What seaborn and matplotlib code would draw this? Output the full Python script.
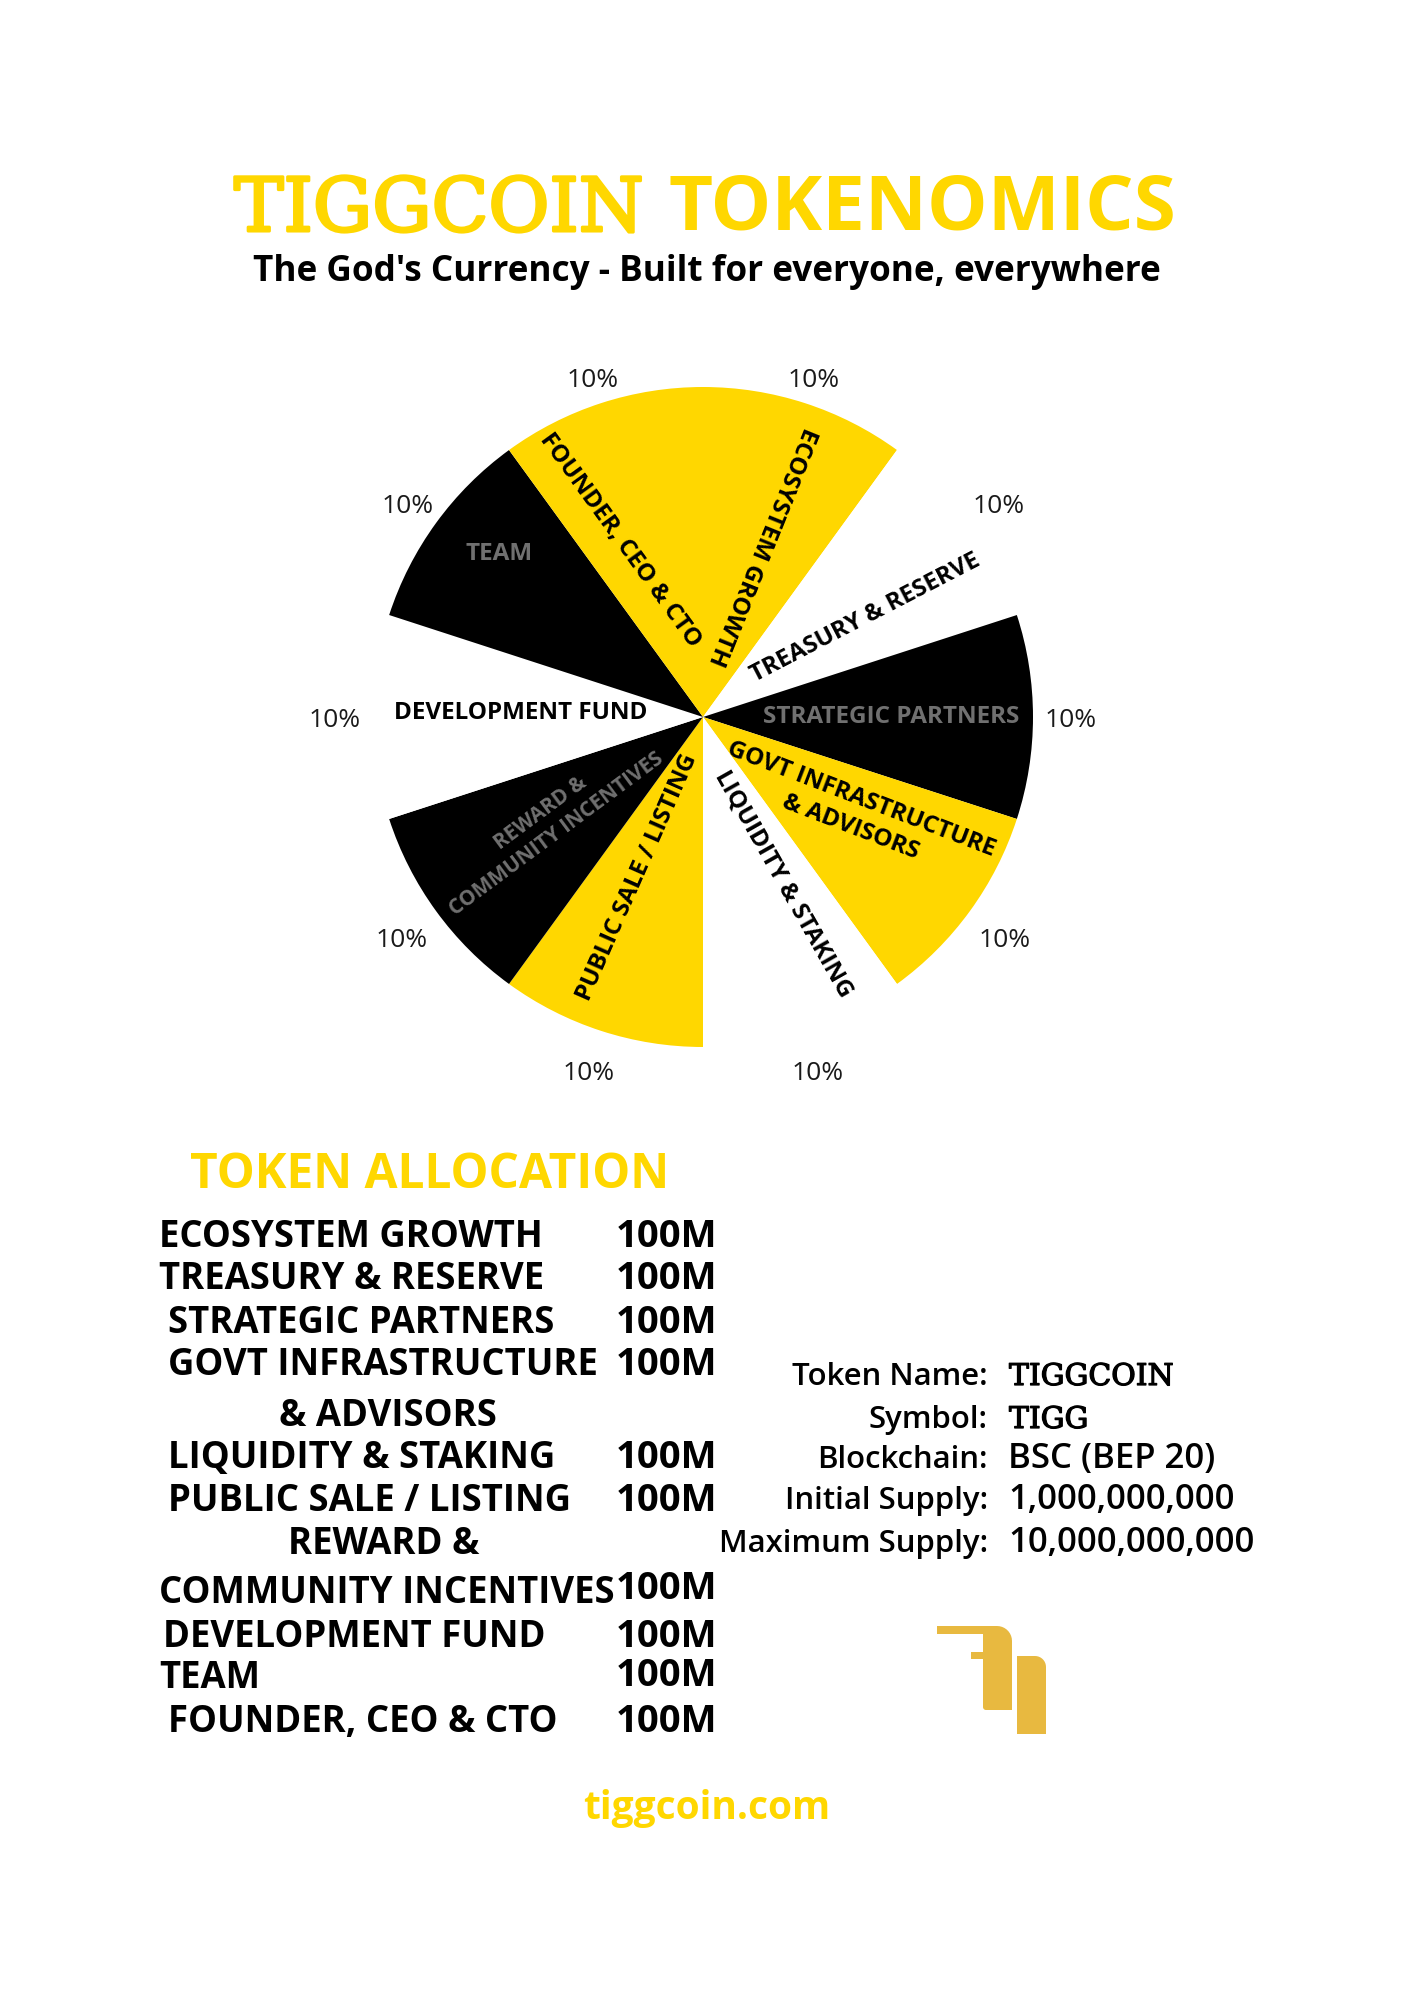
import numpy as np
import matplotlib
matplotlib.use("Agg")
import matplotlib.pyplot as plt
import matplotlib.patheffects as pe
import seaborn as sns
from matplotlib.patches import Polygon

# ================= DATA =================
categories = [
    "ECOSYSTEM GROWTH", "TREASURY & RESERVE", "STRATEGIC PARTNERS",
    "GOVT INFRASTRUCTURE & ADVISORS", "LIQUIDITY & STAKING",
    "PUBLIC SALE / LISTING", "REWARD & COMMUNITY INCENTIVES",
    "DEVELOPMENT FUND", "TEAM", "FOUNDER, CEO & CTO",
]
amounts_m = [100, 100, 100, 100, 100, 100, 100, 100, 100, 100]
slice_colors = ["#FFD700", "#FFFFFF", "#000000", "#FFD700", "#FFFFFF",
                "#FFD700", "#000000", "#FFFFFF", "#000000", "#FFD700"]

info_labels = ["Token Name:", "Symbol:", "Blockchain:", "Initial Supply:", "Maximum Supply:"]
info_values = ["TIGGCOIN", "TIGG", "BSC (BEP 20)", "1,000,000,000", "10,000,000,000"]

YELLOW = "#FFD700"
GRAY = "#707070"
GOLD = "#E8B940"

# ================= STYLE =================
sns.set_theme(style="white")
plt.rcParams["font.family"] = ["Open Sans", "DejaVu Sans"]

W, H = 1414, 2000
fig = plt.figure(figsize=(W / 100, H / 100), dpi=100)
fig.patch.set_facecolor("white")

bg = fig.add_axes([0, 0, 1, 1])
bg.set_xlim(0, W)
bg.set_ylim(H, 0)
bg.axis("off")

def thick(col, w):
    return [pe.withStroke(linewidth=w, foreground=col)]

# ================= TITLE =================
bg.text(234, 231, "TIGGCOIN", family="DejaVu Serif", fontsize=53.5, color=YELLOW,
        ha="left", va="baseline", path_effects=thick(YELLOW, 2.2))
bg.text(669, 229, "TOKENOMICS", fontsize=55, weight="bold", color=YELLOW,
        ha="left", va="baseline")
bg.text(707, 281, "The God's Currency - Built for everyone, everywhere",
        fontsize=25.3, weight="bold", color="black", ha="center", va="baseline")

# ================= PIE =================
cx, cy, side = 703, 717, 858
pie_ax = fig.add_axes([(cx - side / 2) / W, (H - cy - side / 2) / H, side / W, side / H])
wedges, _, pct_texts = pie_ax.pie(
    amounts_m, colors=slice_colors, startangle=90, counterclock=False,
    autopct=lambda p: f"{p:.0f}%", pctdistance=1.1,
    wedgeprops=dict(linewidth=0),
    textprops=dict(fontsize=19, color="#1a1a1a"),
)
# the poster sets the lower labels a little further out than the top ones
for w, t in zip(wedges, pct_texts):
    ang = np.radians((w.theta1 + w.theta2) / 2)
    s = np.sin(ang)
    if s > 0.05:
        r = 1.07 + 0.045 * abs(np.cos(ang))
    elif s < -0.05:
        r = 1.118 + 0.015 * abs(np.cos(ang))
    else:
        r = 1.115
    t.set_position((r * np.cos(ang), r * s - 0.012))
pie_ax.set_xlim(-1.3, 1.3)
pie_ax.set_ylim(-1.3, 1.3)
pie_ax.axis("off")

# label placement inside the pie: (text, x, y, rotation, colour, size)
pie_labels = [
    ("ECOSYSTEM GROWTH", 0.179, 0.516, -112, "black", 17.5),
    ("TREASURY & RESERVE", 0.493, 0.300, 27.4, "black", 17.5),
    ("STRATEGIC PARTNERS", 0.571, 0.0, 0, GRAY, 17.5),
    ("GOVT INFRASTRUCTURE\n& ADVISORS", 0.464, -0.293, -21, "black", 17.5),
    ("LIQUIDITY & STAKING", 0.243, -0.506, -60.5, "black", 17.5),
    ("PUBLIC SALE / LISTING", -0.200, -0.487, 66.2, "black", 17.5),
    ("REWARD &\nCOMMUNITY INCENTIVES", -0.468, -0.323, 36.5, GRAY, 15),
    ("DEVELOPMENT FUND", -0.552, 0.013, 0, "black", 17.5),
    ("TEAM", -0.619, 0.494, 0, GRAY, 17.5),
    ("FOUNDER, CEO & CTO", -0.250, 0.534, -54.1, "black", 17.5),
]
for txt, x, y, rot, col, fs in pie_labels:
    pie_ax.text(x, y, txt, rotation=rot, rotation_mode="anchor", ha="center",
                va="center", multialignment="center", fontsize=fs,
                weight="bold", color=col, linespacing=1.3)

# ================= TOKEN ALLOCATION =================
bg.text(190, 1188, "TOKEN ALLOCATION", fontsize=34.5, weight="bold", color=YELLOW,
        ha="left", va="baseline")

# table lines as laid out in the poster (text, x, baseline)
table_lines = [
    ("ECOSYSTEM GROWTH", 159, 1247),
    ("TREASURY & RESERVE", 159, 1289),
    ("STRATEGIC PARTNERS", 168, 1333),
    ("GOVT INFRASTRUCTURE", 168, 1375),
    ("& ADVISORS", 279, 1426),
    ("LIQUIDITY & STAKING", 168, 1468),
    ("PUBLIC SALE / LISTING", 168, 1511),
    ("REWARD &", 288, 1554),
    ("COMMUNITY INCENTIVES", 159, 1603),
    ("DEVELOPMENT FUND", 163, 1647),
    ("TEAM", 159, 1688),
    ("FOUNDER, CEO & CTO", 168, 1732),
]
for txt, x, y in table_lines:
    bg.text(x, y, txt, fontsize=26.3, weight="bold", color="black", ha="left", va="baseline")

value_rows = [1247, 1289, 1333, 1375, 1468, 1511, 1599, 1647, 1686, 1732]
for amt, y in zip(amounts_m, value_rows):
    bg.text(616, y, f"{amt}M", fontsize=27.5, weight="bold", color="black",
            ha="left", va="baseline")

# ================= TOKEN INFO =================
info_rows = [1385, 1428, 1468, 1509, 1552]
for lab, val, y in zip(info_labels, info_values, info_rows):
    bg.text(988, y, lab, fontsize=22.4, weight="semibold", color="black",
            ha="right", va="baseline")
    if val.startswith("TIGG"):
        bg.text(1009, y, val, family="DejaVu Serif", fontsize=21.5, color="black",
                ha="left", va="baseline", path_effects=thick("black", 0.9))
    else:
        bg.text(1008, y, val, fontsize=25, weight="semibold", color="black",
                ha="left", va="baseline")

# ================= LOGO =================
def arc(corner, r, a0, a1):
    t = np.linspace(np.radians(a0), np.radians(a1), 10)
    return [(corner[0] + r * np.cos(a), corner[1] - r * np.sin(a)) for a in t]

hook = ([(937, 1626)] + arc((997, 1641), 15, 90, 0)
        + [(1012, 1710), (986, 1710)] + arc((986, 1707), 3, 270, 180)
        + [(983, 1634), (937, 1634)])
bg.add_patch(Polygon(hook, closed=True, color=GOLD, lw=0))
bg.add_patch(Polygon([(970.5, 1651.5), (983, 1651.5), (983, 1659), (970.5, 1659)],
                     closed=True, color=GOLD, lw=0))
stem = [(1017, 1656)] + arc((1035, 1667), 11, 90, 0) + [(1046, 1734), (1017, 1734)]
bg.add_patch(Polygon(stem, closed=True, color=GOLD, lw=0))

# ================= FOOTER =================
bg.text(707, 1819, "tiggcoin.com", fontsize=28, weight="bold", color=YELLOW,
        ha="center", va="baseline")

fig.savefig("out.png", dpi=100, facecolor="white")
